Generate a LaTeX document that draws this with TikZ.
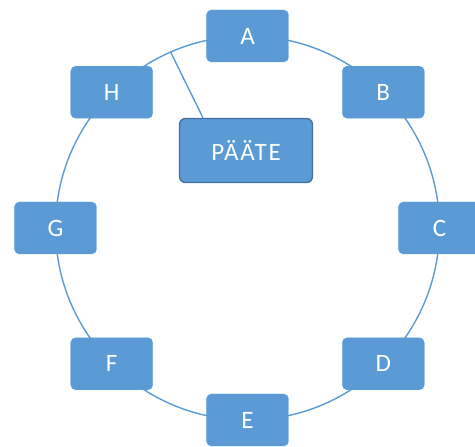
\documentclass[tikz,border=0pt]{standalone}
\usepackage{fontspec}
\setmainfont{Carlito}
\newfontfamily\spacedfont[LetterSpace=7]{Carlito}
\definecolor{ringblue}{HTML}{5B9BD5}
\definecolor{edgeblue}{HTML}{41719C}
\begin{document}
\begin{tikzpicture}[x=1pt,y=1pt,
  station/.style={fill=ringblue, draw=ringblue, rounded corners=5pt,
    minimum width=82pt, minimum height=52pt, inner sep=0pt,
    text=white, font=\fontsize{25}{25}\selectfont},
  terminal/.style={fill=ringblue, draw=edgeblue, line width=1.3pt,
    rounded corners=6pt, minimum width=133pt, minimum height=64pt,
    inner sep=0pt, text=white, font=\spacedfont\fontsize{25}{25}\selectfont},
  ring/.style={draw=ringblue, line width=1.4pt}]
  \useasboundingbox (-247.5,-219) rectangle (227.5,228);
  % the ring itself
  \draw[ring] (0,0) circle (192);
  % stations on the ring
  \node[station] (A) at (90:192) {A};
  \node[station] (B) at (45:192) {B};
  \node[station] (C) at (0:192) {C};
  \node[station] (D) at (-45:192) {D};
  \node[station] (E) at (-90:192) {E};
  \node[station] (F) at (-135:192) {F};
  \node[station] (G) at (180:192) {G};
  \node[station] (H) at (135:192) {H};
  % terminal inside the ring, tapped onto it
  \node[terminal] (T) at (-1.5,77.5) {PÄÄTE};
  \coordinate (tap) at (113.6:192);
  \draw[ring] (tap) -- ([xshift=-43pt]T.north);
\end{tikzpicture}
\end{document}
